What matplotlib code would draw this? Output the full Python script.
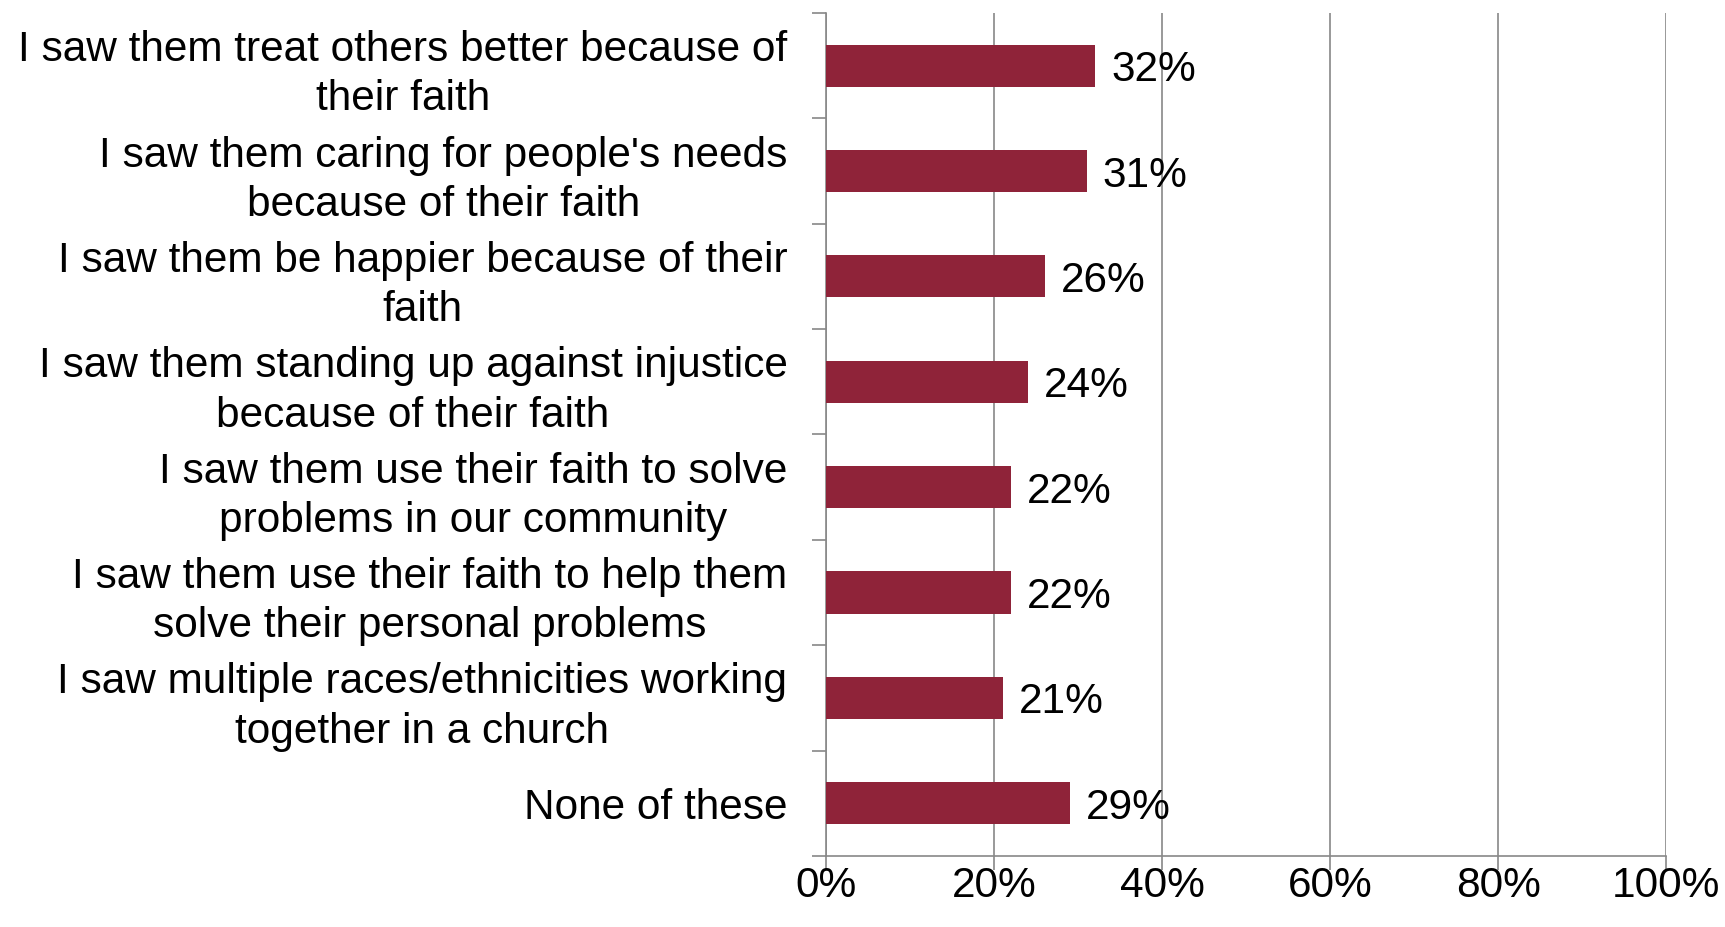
import numpy as np
import matplotlib.pyplot as plt
import matplotlib.transforms as mtransforms
from matplotlib.ticker import FixedLocator

# 데이터
categories = [
    "I saw them treat others better because of\ntheir faith",
    "I saw them caring for people's needs\nbecause of their faith",
    "I saw them be happier because of their\nfaith",
    "I saw them standing up against injustice\nbecause of their faith",
    "I saw them use their faith to solve\nproblems in our community",
    "I saw them use their faith to help them\nsolve their personal problems",
    "I saw multiple races/ethnicities working\ntogether in a church",
    "None of these",
]
values = [32, 31, 26, 24, 22, 22, 21, 29]
x_ticks = [0, 20, 40, 60, 80, 100]
x_tick_labels = ["0%", "20%", "40%", "60%", "80%", "100%"]

plt.rcParams['font.family'] = ['Liberation Sans', 'DejaVu Sans']

fig = plt.figure(figsize=(17.25, 9.27), dpi=100)
ax = fig.add_axes([0.479, 0.0766, 0.487, 0.9094])

y = np.arange(len(categories))
ax.barh(y, values, height=0.4, color="#8F2339", zorder=3)

for yi, v in zip(y, values):
    ax.text(v + 1.9, yi, f"{v}%", va="center_baseline", ha="left", fontsize=30.5, zorder=4)

ax.set_xlim(0, 100)
ax.set_ylim(len(categories) - 0.5, -0.5)

ax.set_xticks(x_ticks)
ax.set_xticklabels(x_tick_labels, fontsize=30.5)
ax.set_yticks(y)
ax.set_yticklabels(categories, fontsize=30.5, multialignment="center", linespacing=1.3)
ax.yaxis.set_minor_locator(FixedLocator(np.arange(-0.5, len(categories), 1.0)))

# 두 줄 라벨 살짝 위로
off = mtransforms.ScaledTranslation(0, 3 / 72, fig.dpi_scale_trans)
for lab in ax.get_yticklabels():
    lab.set_transform(lab.get_transform() + off)

ax.tick_params(axis="y", which="major", length=0, pad=28)
ax.tick_params(axis="y", which="minor", length=10, color="#888888", width=1.2)
ax.tick_params(axis="x", length=10, color="#888888", width=1.2, pad=-3)

ax.grid(axis="x", color="#888888", linewidth=1.2, zorder=0)
for s in ["top", "right"]:
    ax.spines[s].set_visible(False)
for s in ["left", "bottom"]:
    ax.spines[s].set_color("#888888")
    ax.spines[s].set_linewidth(1.2)

fig.savefig("out.png", dpi=100)
